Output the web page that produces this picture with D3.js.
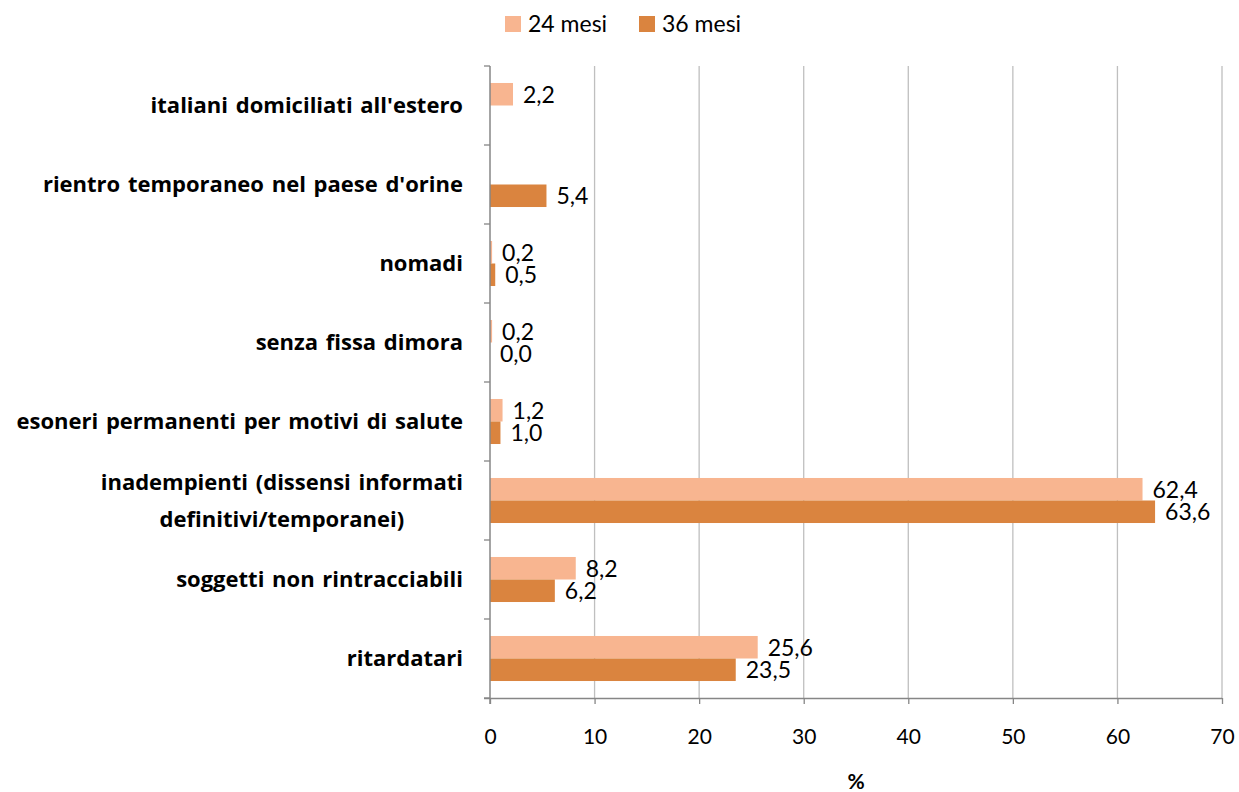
<!DOCTYPE html>
<html>
<head>
<meta charset="utf-8">
<script src="https://cdn.jsdelivr.net/npm/d3@7"></script>
<style>
  html, body { margin: 0; padding: 0; background: #fff; }
  svg { display: block; font-family: Lato, "Open Sans", sans-serif; }
</style>
</head>
<body>
<svg id="chart" width="1239" height="792"></svg>
<script>
// Categories, top to bottom
const categories = [
  "italiani domiciliati all'estero",
  "rientro temporaneo nel paese d'orine",
  "nomadi",
  "senza fissa dimora",
  "esoneri permanenti per motivi di salute",
  "inadempienti (dissensi informati|definitivi/temporanei)",
  "soggetti non rintracciabili",
  "ritardatari"
];
const seriesNames = ["24 mesi", "36 mesi"];
// Percentages (null = not reported)
const values24 = [2.2, null, 0.2, 0.2, 1.2, 62.4, 8.2, 25.6];
const values36 = [null, 5.4, 0.5, 0.0, 1.0, 63.6, 6.2, 23.5];
const xTicks = [0, 10, 20, 30, 40, 50, 60, 70];
const xTitle = "%";

const colors = ["#F8B590", "#DA843F"];

const svg = d3.select("#chart");
const plot = { left: 490, right: 1222, top: 66, bottom: 698 };

const x = d3.scaleLinear().domain([0, 70]).range([plot.left, plot.right]);
const y = d3.scaleBand().domain(categories).range([plot.top, plot.bottom]).paddingInner(0.43).paddingOuter(0.215);
const ySub = d3.scaleBand().domain(seriesNames).range([0, y.bandwidth()]);

// Vertical gridlines
svg.append("g")
  .selectAll("line")
  .data(xTicks.filter(t => t > 0))
  .join("line")
  .attr("x1", d => x(d)).attr("x2", d => x(d))
  .attr("y1", plot.top).attr("y2", plot.bottom)
  .attr("stroke", "#BFBFBF").attr("stroke-width", 1.3);

// Bars
const rows = categories.map((c, i) => ({ c, v: [values24[i], values36[i]] }));
const groups = svg.append("g").selectAll("g")
  .data(rows).join("g")
  .attr("transform", d => `translate(0,${y(d.c)})`);

groups.selectAll("rect")
  .data(d => d.v.map((v, j) => ({ v, s: seriesNames[j], j })).filter(e => e.v !== null))
  .join("rect")
  .attr("x", x(0))
  .attr("y", e => ySub(e.s))
  .attr("width", e => x(e.v) - x(0))
  .attr("height", ySub.bandwidth())
  .attr("fill", e => colors[e.j]);

// Value labels
const fmt = v => v.toFixed(1).replace(".", ",");
groups.selectAll("text.val")
  .data(d => d.v.map((v, j) => ({ v, s: seriesNames[j], j })).filter(e => e.v !== null))
  .join("text")
  .attr("class", "val")
  .attr("x", e => x(e.v) + 10)
  .attr("y", e => ySub(e.s) + ySub.bandwidth() / 2)
  .attr("dy", "0.36em")
  .attr("font-size", 23)
  .attr("fill", "#000")
  .text(e => fmt(e.v));

// Left axis (category axis) with tick marks at band boundaries
const boundaries = d3.range(categories.length + 1).map(i => plot.top + i * (plot.bottom - plot.top) / categories.length);
svg.append("g").selectAll("line")
  .data(boundaries).join("line")
  .attr("x1", plot.left - 6).attr("x2", plot.left)
  .attr("y1", d => d).attr("y2", d => d)
  .attr("stroke", "#868686").attr("stroke-width", 1.3);
svg.append("line")
  .attr("x1", plot.left).attr("x2", plot.left)
  .attr("y1", plot.top).attr("y2", plot.bottom + 6)
  .attr("stroke", "#868686").attr("stroke-width", 1.5);

// Category labels
const labelRight = 463;
const labelFont = "'Open Sans', sans-serif";
const labelSize = 22;
categories.forEach(c => {
  const lines = c.split("|");
  const cy = y(c) + y.bandwidth() / 2;
  const t = svg.append("text")
    .attr("font-family", labelFont)
    .attr("font-size", labelSize)
    .attr("font-weight", "bold")
    .attr("word-spacing", 2)
    .attr("fill", "#000");
  if (lines.length === 1) {
    t.attr("x", labelRight).attr("y", cy).attr("dy", "0.36em")
      .attr("text-anchor", "end").text(lines[0]);
  } else {
    // two centred lines, the longer one right-aligned to the axis
    const tmp = svg.append("text").attr("font-family", labelFont).attr("font-size", labelSize)
      .attr("font-weight", "bold").attr("word-spacing", 2).text(lines[0]);
    const w = tmp.node().getComputedTextLength();
    tmp.remove();
    const cx = labelRight - w / 2;
    t.attr("text-anchor", "middle");
    lines.forEach((ln, k) => {
      t.append("tspan").attr("x", cx)
        .attr("y", cy + (k - (lines.length - 1) / 2) * 37)
        .attr("dy", "0.36em").text(ln);
    });
  }
});

// Bottom axis
const xAxis = svg.append("g").attr("transform", `translate(0,${plot.bottom})`)
  .call(d3.axisBottom(x).tickValues(xTicks).tickSize(6).tickSizeOuter(0).tickPadding(25));
xAxis.select(".domain").attr("stroke", "#868686").attr("stroke-width", 1.5)
  .attr("d", `M${plot.left - 6},0.5H${plot.right}`);
xAxis.selectAll(".tick line").attr("stroke", "#868686").attr("stroke-width", 1.3);
xAxis.selectAll(".tick text").attr("font-size", 21).attr("fill", "#000")
  .attr("font-family", "Lato, sans-serif");

// Axis title
svg.append("text")
  .attr("x", (plot.left + plot.right) / 2).attr("y", 789)
  .attr("text-anchor", "middle").attr("font-size", 21).attr("font-weight", "bold")
  .text(xTitle);

// Legend
const legend = svg.append("g");
const legendItems = [{ n: seriesNames[0], x: 505 }, { n: seriesNames[1], x: 639 }];
legendItems.forEach((it, i) => {
  legend.append("rect").attr("x", it.x).attr("y", 16).attr("width", 16).attr("height", 16).attr("fill", colors[i]);
  legend.append("text").attr("x", it.x + 23).attr("y", 24).attr("dy", "0.36em")
    .attr("font-size", 23).attr("fill", "#000").text(it.n);
});
</script>
</body>
</html>
